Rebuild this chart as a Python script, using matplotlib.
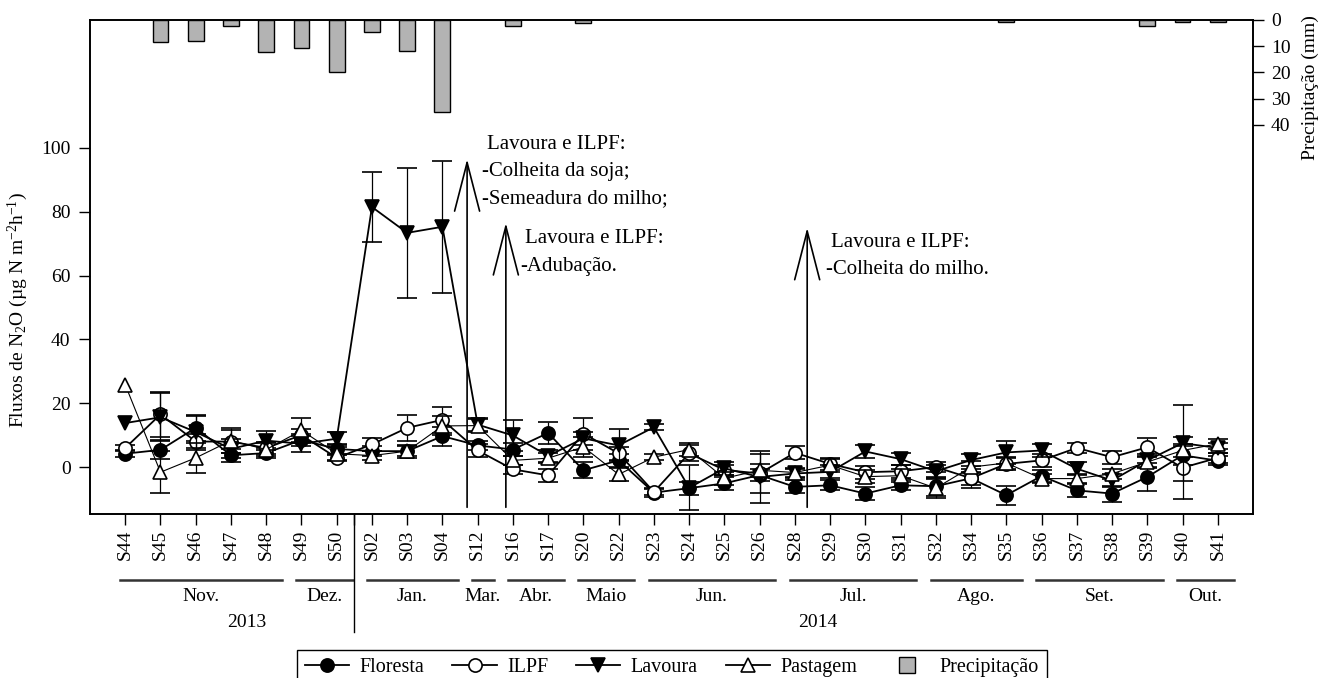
import numpy as np
import matplotlib
matplotlib.use('Agg')
import matplotlib.pyplot as plt
import matplotlib.transforms as mtransforms
from matplotlib.lines import Line2D

plt.rcParams['font.family'] = ['Liberation Serif', 'DejaVu Serif']
plt.rcParams['mathtext.fontset'] = 'custom'
plt.rcParams['mathtext.rm'] = 'Liberation Serif'
plt.rcParams['mathtext.it'] = 'Liberation Serif:italic'
plt.rcParams['mathtext.bf'] = 'Liberation Serif:bold'

nan = np.nan

# semanas de coleta
semanas = ['S44', 'S45', 'S46', 'S47', 'S48', 'S49', 'S50', 'S02', 'S03', 'S04',
           'S12', 'S16', 'S17', 'S20', 'S22', 'S23', 'S24', 'S25', 'S26', 'S28',
           'S29', 'S30', 'S31', 'S32', 'S34', 'S35', 'S36', 'S37', 'S38', 'S39',
           'S40', 'S41']

# fluxos de N2O (ug N m-2 h-1)
floresta = [4.2, 5.4, 12.3, 3.7, 4.4, 8.5, 5.7, 5.0, 5.0, 9.7, 6.8, 5.5, 10.7, -1.0, 2.1, -8.0,
            -6.6, -5.1, -2.5, -6.2, -5.7, -8.3, -5.7, -6.0, -3.5, -8.8, -2.8, -7.3, -8.3, -3.1, 3.7, 2.0]
ilpf = [6.0, 16.5, 8.0, 8.0, 6.0, 10.0, 2.9, 7.1, 12.3, 14.8, 5.2, -0.7, -2.6, 10.5, 4.3, -7.8,
        4.3, -0.9, -2.0, 4.5, 1.0, -1.6, -1.3, 0.0, -3.5, 1.0, 2.1, 6.0, 3.1, 6.2, -0.2, 2.9]
lavoura = [13.8, 15.6, 11.0, 5.7, 8.3, 7.3, 8.9, 81.5, 73.4, 75.3, 13.3, 9.9, 3.5, 9.0, 6.8, 12.5,
           -6.5, -0.4, -3.1, -2.0, -1.5, 4.9, 2.5, -1.3, 2.2, 4.6, 5.2, -0.5, -4.2, 2.1, 7.5, 6.0]
pastagem = [25.8, -1.6, 2.9, 8.3, 5.5, 11.5, 4.2, 3.6, 5.0, 12.9, 13.0, 2.1, 2.8, 6.3, -2.3, 3.1,
            5.5, -3.5, -1.0, -1.7, 0.6, -3.0, -2.7, -6.6, 0.0, 1.3, -3.6, -3.6, -2.1, 1.6, 5.2, 7.3]

# erro padrao
floresta_err = [1, 3, 4, 2, 1.5, 2, 1.5, 1.5, 1.5, 3, 1.5, 2, 3.5, 2.5, 2, 1.5,
                2, 2, 2, 2, 1.5, 2, 1.5, 3, 2, 3, 2, 2, 2.5, 4.5, 3, 1.5]
ilpf_err = [1, 7, 2.5, 3.5, 2, 2, 1, 2, 4, 4, 2, 1.5, 2, 5, 2, 1,
            2.5, 1.5, 6, 2, 2, 2, 2, 1.5, 3, 2, 2, 1.5, 2, 3, 9.7, 1.5]
lavoura_err = [nan, 7.5, 5, 3, 3, 2.5, 2, 11, 20.3, 20.7, 2, 5, 2, 2, 5, 1,
               7, 2, 8, 1.5, 2, 2, 2, 2, 2, 3.5, 2, 2, 2, 2, 12, 1.5]
pastagem_err = [nan, 6.5, 4.8, 4, 2, 4, 2, 1.5, 2, 3, 2, 1.5, 1.5, 3, 2, 1,
                2, 2, 2, 1.5, 2, 2, 2, 3, 2, 2, 1.5, 1.5, 1.5, 2, 2, 1.5]

# precipitacao (mm)
precipitacao = [0, 8.2, 7.9, 2.3, 12.3, 10.8, 19.9, 4.6, 11.7, 34.9, 0, 2.1, 0, 1.0, 0, 0,
                0, 0, 0, 0, 0, 0, 0, 0, 0, 0.6, 0, 0, 0, 2.1, 0.8, 0.8]

meses = ['Nov.', 'Dez.', 'Jan.', 'Mar.', 'Abr.', 'Maio', 'Jun.', 'Jul.', 'Ago.', 'Set.', 'Out.']
meses_inicio = [0, 5, 7, 10, 11, 13, 15, 19, 23, 26, 30]
meses_fim = [4, 6, 9, 10, 12, 14, 18, 22, 25, 29, 31]
anos = ['2013', '2014']
anos_pos = [3.45, 19.65]

# manejos: posicao da seta, topo da seta e texto
eventos_x = [9.7, 10.8, 19.35]
eventos_topo = [96.5, 76.5, 75.0]
eventos_texto = [['Lavoura e ILPF:', '-Colheita da soja;', '-Semeadura do milho;'],
                 ['Lavoura e ILPF:', '-Adubação.'],
                 ['Lavoura e ILPF:', '-Colheita do milho.']]
eventos_texto_x = [10.12, 11.2, 19.88]
eventos_texto_y = [101.0, 71.5, 70.5]

x = np.arange(len(semanas))

fig = plt.figure(figsize=(13.21, 6.78), dpi=100)
ax = fig.add_axes([90 / 1321, 164 / 678, 1163 / 1321, 494 / 678])

series = [
    ('Floresta', floresta, floresta_err, 'o', 'black', 1.3, 3),
    ('ILPF', ilpf, ilpf_err, 'o', 'white', 1.3, 4),
    ('Lavoura', lavoura, lavoura_err, 'v', 'black', 1.3, 5),
    ('Pastagem', pastagem, pastagem_err, '^', 'white', 0.8, 6),
]
handles = []
for nome, y, err, marker, fc, lw, z in series:
    ax.errorbar(x, y, yerr=err, fmt='-', marker=marker, ms=9.5, mfc=fc, mec='black', mew=1.2,
                color='black', lw=lw, ecolor='black', elinewidth=0.9, capsize=7, capthick=0.9,
                zorder=z)
    handles.append(Line2D([], [], color='black', lw=1.3, marker=marker, ms=9.5, mfc=fc,
                          mec='black', mew=1.2, label=nome))

ax.set_xlim(-1, 32)
ax.set_ylim(-14.7, 140.1)
ax.set_yticks(range(0, 101, 20))
ax.set_xticks(x, semanas, rotation=90)
ax.set_xticks([6.5], minor=True)
ax.tick_params(axis='both', which='both', direction='out', length=8, width=1, labelsize=14)
ax.tick_params(axis='y', pad=6)
ax.tick_params(axis='x', pad=3)
for s in ax.spines.values():
    s.set_linewidth(1.2)

# precipitacao no eixo invertido (so semanas com chuva)
ax2 = ax.twinx()
chuva = np.array(precipitacao) > 0
ax2.bar(x[chuva], np.array(precipitacao)[chuva], width=0.45, color='#b3b3b3',
        edgecolor='black', lw=1, zorder=2)
ax2.set_ylim(188.2, 0)
ax2.set_yticks(range(0, 41, 10))
ax2.tick_params(axis='y', direction='out', length=8, width=1, labelsize=14, pad=5)
for s in ax2.spines.values():
    s.set_linewidth(1.2)
handles.append(Line2D([], [], ls='none', marker='s', ms=12, mfc='#b3b3b3', mec='black',
                      mew=1, label='Precipitação'))

# setas dos manejos
for ex, topo, linhas, tx, ty in zip(eventos_x, eventos_topo, eventos_texto,
                                    eventos_texto_x, eventos_texto_y):
    ax.annotate('', xy=(ex, topo), xytext=(ex, -12.6),
                arrowprops=dict(arrowstyle='->,head_length=3.5,head_width=0.9', lw=1.2,
                                color='black', shrinkA=0, shrinkB=0))
    for i, linha in enumerate(linhas):
        ax.text(tx + (0.15 if i == 0 else 0), ty - i * 8.5, linha, fontsize=15,
                ha='left', va='center')

# meses e anos abaixo do eixo
trans = mtransforms.blended_transform_factory(ax.transData, ax.transAxes)
for mes, ini, fim in zip(meses, meses_inicio, meses_fim):
    ax.plot([ini - 0.15, fim + 0.45], [-0.134, -0.134], transform=trans, clip_on=False,
            color='#333333', lw=1.8)
    ax.text((ini - 0.15 + fim + 0.45) / 2, -0.168, mes, transform=trans, ha='center',
            va='center', fontsize=14)
for ano, pos in zip(anos, anos_pos):
    ax.text(pos, -0.219, ano, transform=trans, ha='center', va='center', fontsize=14)
ax.plot([6.5, 6.5], [0, -0.239], transform=trans, clip_on=False, color='black', lw=1)

fig.text(18 / 1321, 1 - 310 / 678, 'Fluxos de N$_2$O (µg N m$^{-2}$h$^{-1}$)', rotation=90,
         ha='center', va='center', fontsize=14)
fig.text(1310 / 1321, 1 - 88 / 678, 'Precipitação (mm)', rotation=90, ha='center',
         va='center', fontsize=14)

leg = fig.legend(handles=handles, loc='upper center', bbox_to_anchor=(672 / 1321, 38 / 678),
                 ncol=5, frameon=True, fancybox=False, edgecolor='black', framealpha=1,
                 fontsize=14.5, handlelength=2.2, columnspacing=1.4, handletextpad=0.5,
                 borderpad=0.4)
leg.get_frame().set_linewidth(1)

fig.savefig('out.png', dpi=100)
